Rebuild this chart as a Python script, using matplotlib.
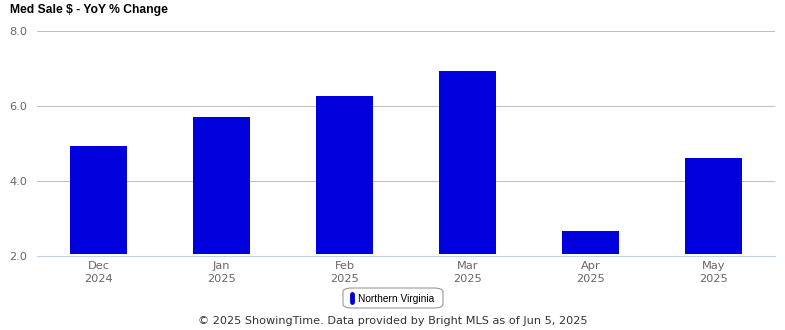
import matplotlib
matplotlib.use("Agg")
import matplotlib.pyplot as plt
from matplotlib.patches import FancyBboxPatch
from matplotlib.lines import Line2D

months = ["Dec\n2024", "Jan\n2025", "Feb\n2025", "Mar\n2025", "Apr\n2025", "May\n2025"]
values = [4.93, 5.71, 6.27, 6.93, 2.67, 4.61]
yticks = [2.0, 4.0, 6.0, 8.0]
series_name = "Northern Virginia"
title = "Med Sale $ - YoY % Change"
footer = "© 2025 ShowingTime. Data provided by Bright MLS as of Jun 5, 2025"

W, H = 785, 330
fig = plt.figure(figsize=(W / 100, H / 100), dpi=100)
ax = fig.add_axes([37 / W, 1 - 256 / H, (775 - 37) / W, (256 - 31) / H])

base = 2.0
gap = 0.06
x = list(range(len(values)))
ax.bar(x, [v - base - gap for v in values], bottom=base + gap, width=0.47,
       color="#0000DD", zorder=3)

ax.set_xlim(-0.5, len(values) - 0.5)
ax.set_ylim(2.0, 8.0)
ax.set_yticks(yticks)
ax.set_yticklabels([f"{t:.1f}" for t in yticks])
ax.set_xticks(x)
ax.set_xticklabels(months, linespacing=1.45)
ax.grid(axis="y", color="#C0C0C0", linewidth=0.75, zorder=0)
for s in ["top", "right", "left"]:
    ax.spines[s].set_visible(False)
ax.spines["bottom"].set_color("#C0D0E0")
ax.spines["bottom"].set_linewidth(0.75)
ax.spines["bottom"].set_zorder(4)
ax.tick_params(axis="both", length=0, labelsize=8.2, labelcolor="#666666")
ax.tick_params(axis="y", pad=7)
ax.tick_params(axis="x", pad=3.5)

fig.text(10 / W, 1 - 10 / H, title, fontsize=8.7, fontweight="bold",
         family="Liberation Sans", va="center", ha="left", color="#000000")

# legend box
lx0, lx1, ly0, ly1 = 343, 443, 288, 308
box = FancyBboxPatch((lx0 / W, 1 - ly1 / H), (lx1 - lx0) / W, (ly1 - ly0) / H,
                     boxstyle="round,pad=0,rounding_size=0.012",
                     transform=fig.transFigure, facecolor="white",
                     edgecolor="#999999", linewidth=0.8)
fig.patches.append(box)
fig.lines.append(Line2D([351.5 / W, 351.5 / W], [1 - 302 / H, 1 - 294 / H],
                        transform=fig.transFigure, color="#0000DD",
                        linewidth=3.5, solid_capstyle="round"))
fig.text(358 / W, 1 - 298.5 / H, series_name, fontsize=7.3, family="Liberation Sans",
         va="center", ha="left", color="#000000")

fig.text(393 / W, 1 - 321 / H, footer, fontsize=8.15, ha="center", va="center",
         color="#333333")

fig.savefig("out.png", dpi=100)
